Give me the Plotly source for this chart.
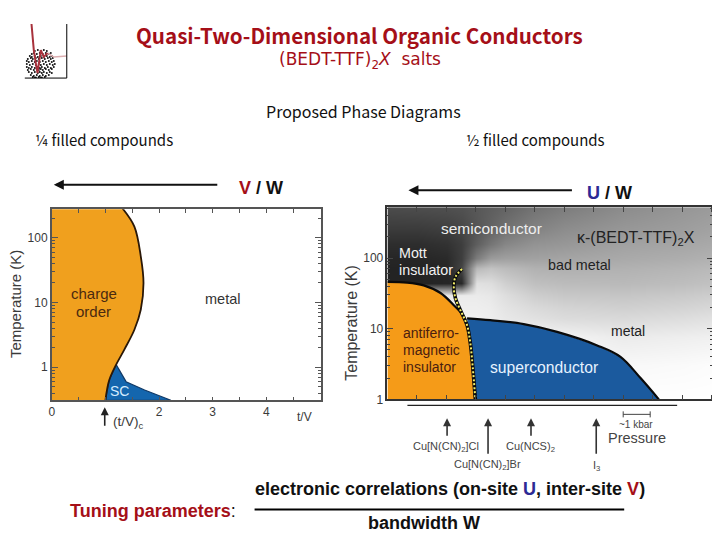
import plotly.graph_objects as go

# ---- left panel: quarter-filled
co_t_over_v = [1.32, 1.54, 1.66, 1.71, 1.66, 1.54, 1.35, 1.20, 1.07, 1.00]
co_T = [282, 148, 51, 20, 7.8, 3.8, 1.86, 1.1, 0.63, 0.31]
sc_t_over_v = [1.00, 1.07, 1.20, 1.385, 1.73, 2.22, 1.00]
sc_T = [0.31, 0.63, 1.1, 0.6, 0.447, 0.31, 0.31]

# ---- right panel: half-filled
afm_p = [0, 0.67, 1.23, 1.80, 2.25, 2.53, 2.70, 2.81, 2.89, 2.98]
afm_T = [46, 45, 41, 32, 21.5, 16, 11.2, 6.2, 2.9, 1]
mott_p = [2.53, 2.305, 2.25, 2.305, 2.50, 2.70, 2.81, 2.89, 2.98]
mott_T = [70, 54, 39, 27, 17.3, 11.2, 6.2, 2.9, 1]
sc2_p = [2.70, 3.49, 4.62, 5.75, 7.11, 7.90, 8.58, 9.20]
sc2_T = [14, 13.2, 11.6, 9, 5.8, 4, 2, 1]
sc2_back_p = [2.98, 2.89, 2.81, 2.70]
sc2_back_T = [1, 2.9, 6.2, 14]

# grey background of the right panel (0-255), rows on log10(T)
bg_p = [0, 1, 2, 2.5, 3, 3.5, 4, 5, 6, 8, 10, 11.04]
bg_logT = [0, 0.5, 0.9, 1.15, 1.3, 1.48, 1.65, 1.85, 2, 2.2, 2.4, 2.72]
bg_grey = [
    [255, 255, 255, 255, 255, 255, 255, 255, 255, 255, 255, 255],
    [250, 250, 250, 250, 250, 250, 250, 250, 250, 248, 250, 252],
    [245, 245, 245, 245, 245, 245, 245, 245, 243, 235, 238, 240],
    [242, 242, 242, 242, 242, 238, 232, 226, 220, 218, 222, 226],
    [238, 238, 238, 238, 238, 236, 228, 218, 212, 208, 212, 216],
    [235, 235, 235, 235, 235, 232, 222, 206, 200, 198, 202, 206],
    [35, 35, 38, 40, 225, 222, 208, 192, 188, 186, 190, 194],
    [35, 35, 38, 70, 185, 195, 188, 178, 176, 178, 182, 186],
    [38, 38, 42, 62, 125, 155, 160, 162, 165, 170, 174, 178],
    [45, 45, 50, 62, 95, 118, 135, 148, 152, 162, 166, 170],
    [58, 58, 62, 70, 86, 100, 115, 132, 142, 152, 158, 163],
    [76, 78, 80, 82, 88, 94, 100, 115, 125, 140, 150, 155],
]

# ---- logo
logo_red_x = [6.7, 9, 11, 12.7, 16, 19, 22.7]
logo_red_y = [54, 28, 15, 5, 28, 21, 25]
logo_tail_x = [22.7, 29, 42]
logo_tail_y = [25, 21, 22]
logo_dot_x = [10,13,16,19,22, 7,9,12,15,18,21,24,26, 5,7,10,13,16,19,22,25,27, 3,6,8,11,14,17,20,23,26,28,
              2,4,7,10,12,15,18,21,24,27,29, 2,5,8,11,14,16,19,22,25,28,30, 2,4,7,10,13,15,17,20,23,26,29,
              3,6,9,12,14,16,18,21,24,27, 4,7,10,13,15,17,19,22,25,27, 6,9,12,15,18,21,24, 8,11,14,17,20, 10,13,16,19]
logo_dot_y = [27,28,27,28,27, 24,25,24,25,24,25,24,25, 22,21,22,21,22,21,22,21,22, 19,20,19,20,19,20,19,20,19,20,
              17,16,17,16,17,16,17,16,17,16,17, 14,13,14,13,14,13,14,13,14,13,14, 11,10,11,10,11,10,11,10,11,10,11,
              8,9,8,9,8,9,8,9,8,9, 6,5,6,5,6,5,6,5,6,5, 3,2,3,2,3,2,3, 1,0.5,1,0.5,1, 0,-1,0,-1]

# ---- text
title_text = "Quasi-Two-Dimensional Organic Conductors"
subtitle_text = "(BEDT-TTF)<sub>2</sub><i>X</i>  salts"
section_text = "Proposed Phase Diagrams"
quarter_text = "¼ filled compounds"
half_text = "½ filled compounds"

RED = "#a50f18"
BLUE = "#2c2a95"
ORANGE_L = "#f0a01e"
ORANGE_R = "#f59b18"
SC_BLUE = "#1b5a9e"
SANS = "Liberation Sans"
JP = "Noto Sans CJK JP"

# figure fills the window inside the page's 8 px body margin; X/Y are reference pixels
W, H, PAGE = 712, 532, 8
SX, OX = 0.9968, 2.2
SY, OY = 0.986, 0.1


def px(x):
    return ((x - OX) / SX - PAGE) / W


def py(y):
    return 1 - ((y - OY) / SY - PAGE) / H


fig = go.Figure()

# left panel
fig.add_trace(go.Scatter(x=sc_t_over_v, y=sc_T, mode="lines", fill="toself", fillcolor="#1466ae",
                         line=dict(color="#123a66", width=1.2), xaxis="x", yaxis="y", hoverinfo="skip"))
fig.add_trace(go.Scatter(x=co_t_over_v, y=co_T, mode="lines", fill="tozerox", fillcolor=ORANGE_L,
                         line=dict(color="#2a1808", width=1.8, shape="spline"), xaxis="x", yaxis="y", hoverinfo="skip"))

# right panel
fig.add_trace(go.Heatmap(x=bg_p, y=bg_logT, z=bg_grey, zmin=0, zmax=255, zsmooth="best", showscale=False,
                         colorscale=[[0, "#000000"], [1, "#ffffff"]], xaxis="x2", yaxis="y2", hoverinfo="skip"))
fig.add_trace(go.Scatter(x=afm_p, y=afm_T, mode="lines", fill="tozerox", fillcolor=ORANGE_R,
                         line=dict(color="#0a0a0a", width=2.2, shape="spline"), xaxis="x4", yaxis="y4", hoverinfo="skip"))
fig.add_trace(go.Scatter(x=sc2_p + sc2_back_p, y=sc2_T + sc2_back_T, mode="lines", fill="toself", fillcolor=SC_BLUE,
                         line=dict(color="rgba(0,0,0,0)", width=0), xaxis="x4", yaxis="y4", hoverinfo="skip"))
fig.add_trace(go.Scatter(x=sc2_p, y=sc2_T, mode="lines", line=dict(color="#0a0a0a", width=2.2, shape="spline"),
                         xaxis="x4", yaxis="y4", hoverinfo="skip"))
fig.add_trace(go.Scatter(x=mott_p, y=mott_T, mode="lines", line=dict(color="#0a0a0a", width=3.6, shape="spline"),
                         xaxis="x4", yaxis="y4", hoverinfo="skip"))
fig.add_trace(go.Scatter(x=mott_p, y=mott_T, mode="lines",
                         line=dict(color="#f5f06a", width=2, shape="spline", dash="2px,2px"),
                         xaxis="x4", yaxis="y4", hoverinfo="skip"))

# logo
fig.add_trace(go.Scatter(x=logo_dot_x, y=logo_dot_y, mode="markers", marker=dict(color="#111111", size=2),
                         xaxis="x3", yaxis="y3", hoverinfo="skip"))
fig.add_trace(go.Scatter(x=logo_tail_x, y=logo_tail_y, mode="lines", line=dict(color="#dcaeb0", width=1.6),
                         xaxis="x3", yaxis="y3", hoverinfo="skip"))
fig.add_trace(go.Scatter(x=logo_red_x, y=logo_red_y, mode="lines", line=dict(color="#a8323c", width=2),
                         xaxis="x3", yaxis="y3", hoverinfo="skip"))

FRAME = "#555555"
TICKF = dict(family=SANS, size=12, color="#3a3a3a")

layout = dict(
    width=W, height=H, showlegend=False, plot_bgcolor="rgba(0,0,0,0)", paper_bgcolor="white",
    margin=dict(l=0, r=0, t=0, b=0), autosize=False,
    xaxis=dict(domain=[px(51), px(320)], range=[0, 5.01], anchor="y", showgrid=False, zeroline=False,
               showline=True, linecolor=FRAME, linewidth=1.5, mirror="ticks", ticks="inside", ticklen=4,
               tickcolor=FRAME, tickvals=[0, .5, 1, 1.5, 2, 2.5, 3, 3.5, 4, 4.5],
               ticktext=["0", "", "", "", "2", "", "3", "", "4", ""], tickfont=TICKF, tickangle=0),
    yaxis=dict(domain=[py(400), py(209)], type="log", range=[-0.51, 2.44], anchor="x", showgrid=False, zeroline=False,
               showline=True, linecolor=FRAME, linewidth=1.5, mirror="ticks", ticks="inside", ticklen=6,
               tickcolor=FRAME, tickvals=[1, 10, 100], ticktext=["1", "10", "100"], tickfont=TICKF,
               minor=dict(ticks="inside", ticklen=3, tickcolor=FRAME, dtick="D1", showgrid=False)),
    xaxis2=dict(domain=[px(387), px(713)], range=[0, 11.04], anchor="y2", visible=False),
    yaxis2=dict(domain=[py(399), py(207)], range=[0, 2.72], anchor="x2", visible=False),
    xaxis3=dict(domain=[px(24), px(66)], range=[0, 42], anchor="y3", visible=False),
    yaxis3=dict(domain=[py(78), py(24)], range=[0, 54], anchor="x3", visible=False),
    xaxis4=dict(domain=[px(387), px(713)], range=[0, 11.04], anchor="y4", showgrid=False, zeroline=False,
                showline=True, linecolor="#333333", linewidth=1.5, mirror="ticks", ticks="inside", ticklen=5,
                tickcolor="#444444", dtick=1, showticklabels=False),
    yaxis4=dict(domain=[py(399), py(207)], type="log", range=[0, 2.72], anchor="x4", showgrid=False, zeroline=False,
                showline=True, linecolor="#333333", linewidth=1.5, mirror="ticks", ticks="inside", ticklen=6,
                tickcolor="#444444", tickvals=[1, 10, 100], ticktext=["1", "10", "100"], tickfont=TICKF,
                minor=dict(ticks="inside", ticklen=3, tickcolor="#444444", dtick="D1", showgrid=False)),
)
fig.update_layout(**layout)


def label(x, y, text, size=13, color="#222222", family=SANS, anchor="center", angle=0):
    fig.add_annotation(xref="paper", yref="paper", x=px(x), y=py(y), text=text, showarrow=False,
                       xanchor=anchor, yanchor="middle", textangle=angle,
                       font=dict(family=family, size=size, color=color))


def arrow(x0, y0, x1, y1, color="#111111", width=2, head=2, size=1):
    fig.add_annotation(xref="paper", yref="paper", axref="pixel", ayref="pixel",
                       ax=x0 - x1, ay=y0 - y1, x=px(x1), y=py(y1), text="", showarrow=True,
                       arrowhead=head, arrowwidth=width, arrowcolor=color, arrowsize=size)


def rule(x0, y0, x1, y1, color="#000000", width=1.2):
    fig.add_shape(type="line", xref="paper", yref="paper", x0=px(x0), y0=py(y0), x1=px(x1), y1=py(y1),
                  line=dict(color=color, width=width))


# header
label(359.5, 35, "<b>" + title_text + "</b>", size=20.6, color=RED, family=JP)
label(360, 60, subtitle_text, size=17, color=RED, family="DejaVu Sans")
label(363, 111, section_text, size=16, color="#111111", family=JP)
label(32, 139, quarter_text, size=15, color="#111111", family=JP, anchor="left")
label(464, 139, half_text, size=15, color="#111111", family=JP, anchor="left")

# tuning arrows
arrow(218, 184.7, 53, 184.7)
label(236, 188, "<b><span style='color:%s'>V</span> / W</b>" % RED, size=18, anchor="left", color="#111111")
arrow(573, 190, 408, 190)
label(585, 193, "<b><span style='color:%s'>U</span> / W</b>" % BLUE, size=18, anchor="left", color="#111111")

# logo frame
rule(66, 24, 66, 78, width=1)
rule(24, 78, 66, 78, width=1)

# left panel labels
label(14, 304, "Temperature (K)", size=15, color="#3a3a3a", angle=-90)
label(93, 293, "charge", size=15, color="#4a2a10")
label(93, 311, "order", size=15, color="#4a2a10")
label(222, 299, "metal", size=14.5, color="#333333")
label(119, 391, "SC", size=14, color="#d5ecff")
label(304, 417, "t/V", size=12, color="#3a3a3a", anchor="center")
label(110, 422, "(t/V)<sub>c</sub>", size=13.5, color="#3a3a3a", anchor="left")
arrow(104, 427, 104, 407, color="#222222", width=1.6)

# right panel labels
label(351, 322, "Temperature (K)", size=16, color="#3a3a3a", angle=-90)
label(491, 228, "semiconductor", size=15.5, color="#eeeeee")
label(635.5, 238, "κ-(BEDT-TTF)<sub>2</sub>X", size=16, color="#222222")
label(396.5, 253, "Mott", size=14.3, color="#f2f2f2", anchor="left")
label(396.5, 270, "insulator", size=14.3, color="#f2f2f2", anchor="left")
label(579, 265, "bad metal", size=14.3, color="#222222")
label(628, 331, "metal", size=14, color="#222222")
label(401, 333, "antiferro-", size=14, color="#4a2010", anchor="left")
label(401, 350, "magnetic", size=14, color="#4a2010", anchor="left")
label(401, 367, "insulator", size=14, color="#4a2010", anchor="left")
label(544, 367, "superconductor", size=15.7, color="#e6f2ff")

# pressure strip
rule(407, 405, 677, 405, color="#222222")
rule(623, 414, 650, 414, color="#444444", width=1)
rule(623, 411, 623, 417, color="#444444", width=1)
rule(650, 411, 650, 417, color="#444444", width=1)
label(636, 424, "~1 kbar", size=10, color="#444444")
label(637, 438, "Pressure", size=14.5, color="#444444")
arrow(446.7, 437, 446.7, 418, color="#333333", width=1.6)
arrow(487.7, 455, 487.7, 418, color="#333333", width=1.6)
arrow(530.7, 437, 530.7, 418, color="#333333", width=1.6)
arrow(596, 455, 596, 418, color="#333333", width=1.6)
label(446, 447, "Cu[N(CN)<sub>2</sub>]Cl", size=11, color="#444444")
label(487, 465, "Cu[N(CN)<sub>2</sub>]Br", size=11, color="#444444")
label(530, 447, "Cu(NCS)<sub>2</sub>", size=11, color="#444444")
label(596, 466, "I<sub>3</sub>", size=11, color="#444444")

# tuning parameters
label(67, 511, "<b><span style='color:%s'>Tuning parameters</span></b>:" % RED, size=18, color="#111111", anchor="left")
label(449.5, 489,
      "<b>electronic correlations (on-site <span style='color:%s'>U</span>, inter-site <span style='color:%s'>V</span>)</b>" % (BLUE, RED),
      size=18, color="#111111")
rule(254, 509, 624, 509, width=2)
label(423.5, 523, "<b>bandwidth W</b>", size=18, color="#111111")

fig.write_html("out.html")
